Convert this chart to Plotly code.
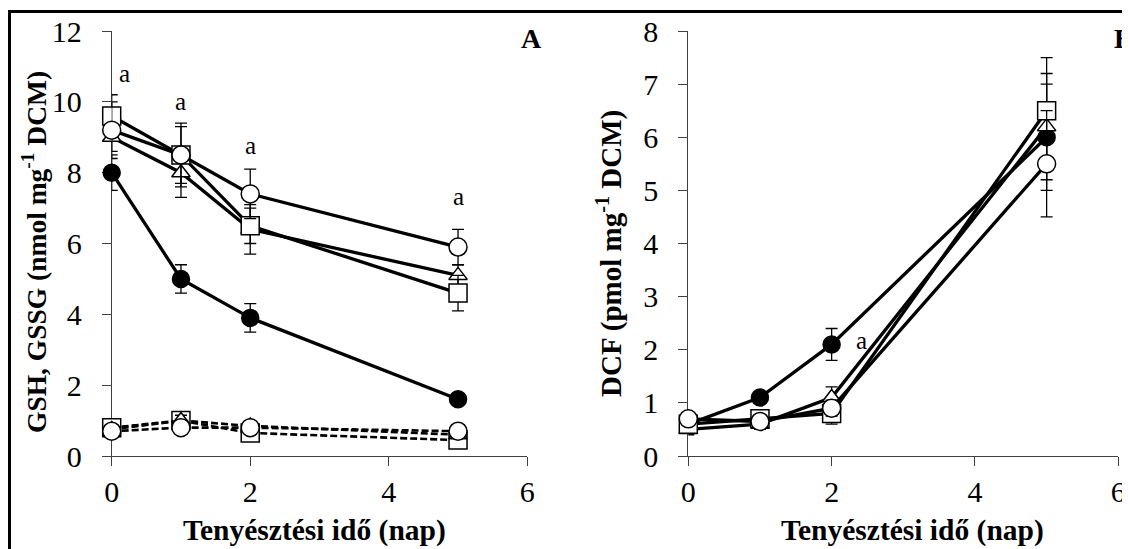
import plotly.graph_objects as go

# page offset of the plot div (browser default body margin) is compensated below
OFF = 8
W, H = 1130 - OFF, 549 - OFF

# ---------------- data ----------------
days = [0, 1, 2, 5]

# Panel A: GSH (solid lines)
gsh_filled_circle = [8.0, 5.0, 3.9, 1.6]
gsh_filled_circle_err = [0.5, 0.4, 0.4, 0.1]
gsh_square = [9.6, 8.5, 6.5, 4.6]
gsh_square_err = [0.6, 0.9, 0.5, 0.5]
gsh_triangle = [9.0, 8.0, 6.4, 5.1]
gsh_triangle_err = [0.4, 0.7, 0.7, 0.3]
gsh_circle = [9.2, 8.5, 7.4, 5.9]
gsh_circle_err = [0.8, 0.8, 0.7, 0.5]

# Panel A: GSSG (dashed lines)
gssg_square = [0.8, 1.0, 0.65, 0.45]
gssg_triangle = [0.75, 1.0, 0.85, 0.6]
gssg_circle = [0.7, 0.8, 0.8, 0.7]
gssg_err = [0.1, 0.15, 0.15, 0.1]

# Panel B: DCF
dcf_filled_circle = [0.6, 1.1, 2.1, 6.0]
dcf_filled_circle_err = [0.1, 0.1, 0.3, 1.0]
dcf_square = [0.6, 0.7, 0.8, 6.5]
dcf_square_err = [0.1, 0.1, 0.2, 1.0]
dcf_triangle = [0.5, 0.6, 1.1, 6.2]
dcf_triangle_err = [0.1, 0.1, 0.2, 1.0]
dcf_circle = [0.7, 0.65, 0.9, 5.5]
dcf_circle_err = [0.1, 0.1, 0.15, 1.0]

# significance letters
sig_a_x = [0.18, 1.0, 2.0, 5.0]
sig_a_y = [10.8, 10.0, 8.76, 7.33]
sig_b_x = [2.41]
sig_b_y = [2.18]

x_ticks = [0, 2, 4, 6]
ya_ticks = [0, 2, 4, 6, 8, 10, 12]
yb_ticks = [0, 1, 2, 3, 4, 5, 6, 7, 8]

title_x = "Tenyésztési idő (nap)"
title_ya = "GSH, GSSG (nmol mg<sup>-1</sup> DCM)"
title_yb = "DCF (pmol mg<sup>-1</sup> DCM)"

# ---------------- figure ----------------
SERIF = "Liberation Serif"
fig = go.Figure()

def px_x(p):
    return (p - OFF) / W

def px_y(p):
    return 1 - (p - OFF) / H

mk = {
    "filled": dict(symbol="circle", size=17, color="black", line=dict(color="black", width=1.5)),
    "square": dict(symbol="square", size=18, color="white", line=dict(color="black", width=1.5)),
    "triangle": dict(symbol="triangle-up", size=16, color="white", line=dict(color="black", width=1.5)),
    "circle": dict(symbol="circle", size=18, color="white", line=dict(color="black", width=1.5)),
}

def add(y, err, kind, xa, ya, dash="solid", lw=3.3):
    fig.add_trace(go.Scatter(
        x=days, y=y, mode="lines+markers",
        line=dict(color="black", width=lw, dash=dash),
        marker=mk[kind],
        error_y=dict(type="data", array=err, visible=True, color="black", thickness=1.3, width=6),
        xaxis=xa, yaxis=ya, cliponaxis=False, showlegend=False,
    ))

# Panel A dashed (GSSG)
add(gssg_square, gssg_err, "square", "x", "y", dash="7px,3px", lw=2.6)
add(gssg_triangle, gssg_err, "triangle", "x", "y", dash="7px,3px", lw=2.6)
add(gssg_circle, gssg_err, "circle", "x", "y", dash="7px,3px", lw=2.6)
# Panel A solid (GSH)
add(gsh_filled_circle, gsh_filled_circle_err, "filled", "x", "y")
add(gsh_triangle, gsh_triangle_err, "triangle", "x", "y")
add(gsh_square, gsh_square_err, "square", "x", "y")
add(gsh_circle, gsh_circle_err, "circle", "x", "y")

# Panel B
add(dcf_filled_circle, dcf_filled_circle_err, "filled", "x2", "y2")
add(dcf_triangle, dcf_triangle_err, "triangle", "x2", "y2")
add(dcf_square, dcf_square_err, "square", "x2", "y2")
add(dcf_circle, dcf_circle_err, "circle", "x2", "y2")

axis_common = dict(
    showgrid=False, zeroline=False, showline=True, linecolor="#404040", linewidth=1,
    ticks="outside", ticklen=9, tickwidth=1, tickcolor="#404040", automargin=False,
    tickfont=dict(family=SERIF, size=30, color="black"), layer="below traces",
)

ydom = [px_y(456), px_y(31)]
fig.update_layout(
    width=W, height=H, autosize=False,
    margin=dict(l=0, r=0, t=0, b=0, pad=0, autoexpand=False),
    paper_bgcolor="white", plot_bgcolor="white",
    showlegend=False,
    xaxis=dict(domain=[px_x(111.7), px_x(527.3)], range=[0, 6], tickvals=x_ticks,
               anchor="y", ticklabelstandoff=0, **axis_common),
    yaxis=dict(domain=ydom, range=[0, 12], tickvals=ya_ticks, anchor="x",
               ticklabelstandoff=14, **axis_common),
    xaxis2=dict(domain=[px_x(688.3), px_x(1118.3)], range=[0, 6], tickvals=x_ticks,
                anchor="y2", ticklabelstandoff=0, **axis_common),
    yaxis2=dict(domain=ydom, range=[0, 8], tickvals=yb_ticks, anchor="x2",
                ticklabelstandoff=14, **axis_common),
)

ann = []
for xx, yy in zip(sig_a_x, sig_a_y):
    ann.append(dict(x=xx, y=yy, xref="x", yref="y", text="a", showarrow=False,
                    font=dict(family=SERIF, size=25, color="black")))
for xx, yy in zip(sig_b_x, sig_b_y):
    ann.append(dict(x=xx, y=yy, xref="x2", yref="y2", text="a", showarrow=False,
                    font=dict(family=SERIF, size=25, color="black")))

bold_x = dict(family=SERIF, size=29.5, color="black")
bold_ya = dict(family=SERIF, size=27.5, color="black")
bold_yb = dict(family=SERIF, size=29, color="black")
bold = dict(family=SERIF, size=28, color="black")
ann += [
    dict(x=px_x(314), y=px_y(530), xref="paper", yref="paper", text="<b>" + title_x + "</b>",
         showarrow=False, font=bold_x, xanchor="center", yanchor="middle"),
    dict(x=px_x(912), y=px_y(530), xref="paper", yref="paper", text="<b>" + title_x + "</b>",
         showarrow=False, font=bold_x, xanchor="center", yanchor="middle"),
    dict(x=px_x(35), y=px_y(252), xref="paper", yref="paper", text="<b>" + title_ya + "</b>",
         showarrow=False, font=bold_ya, textangle=-90, xanchor="center", yanchor="middle"),
    dict(x=px_x(609), y=px_y(254), xref="paper", yref="paper", text="<b>" + title_yb + "</b>",
         showarrow=False, font=bold_yb, textangle=-90, xanchor="center", yanchor="middle"),
    dict(x=px_x(531), y=px_y(38), xref="paper", yref="paper", text="<b>A</b>",
         showarrow=False, font=bold, xanchor="center", yanchor="middle"),
    dict(x=px_x(1112), y=px_y(39), xref="paper", yref="paper", text="<b>B</b>",
         showarrow=False, font=bold, xanchor="left", yanchor="middle"),
]
fig.update_layout(annotations=ann)

# outer frame (top and left edges)
fig.add_shape(type="line", xref="paper", yref="paper", x0=px_x(8.5), x1=1.0,
              y0=px_y(11.5), y1=px_y(11.5), line=dict(color="black", width=3))
fig.add_shape(type="line", xref="paper", yref="paper", x0=px_x(9.5), x1=px_x(9.5),
              y0=px_y(10), y1=0, line=dict(color="black", width=3))

fig.write_html("out.html")
